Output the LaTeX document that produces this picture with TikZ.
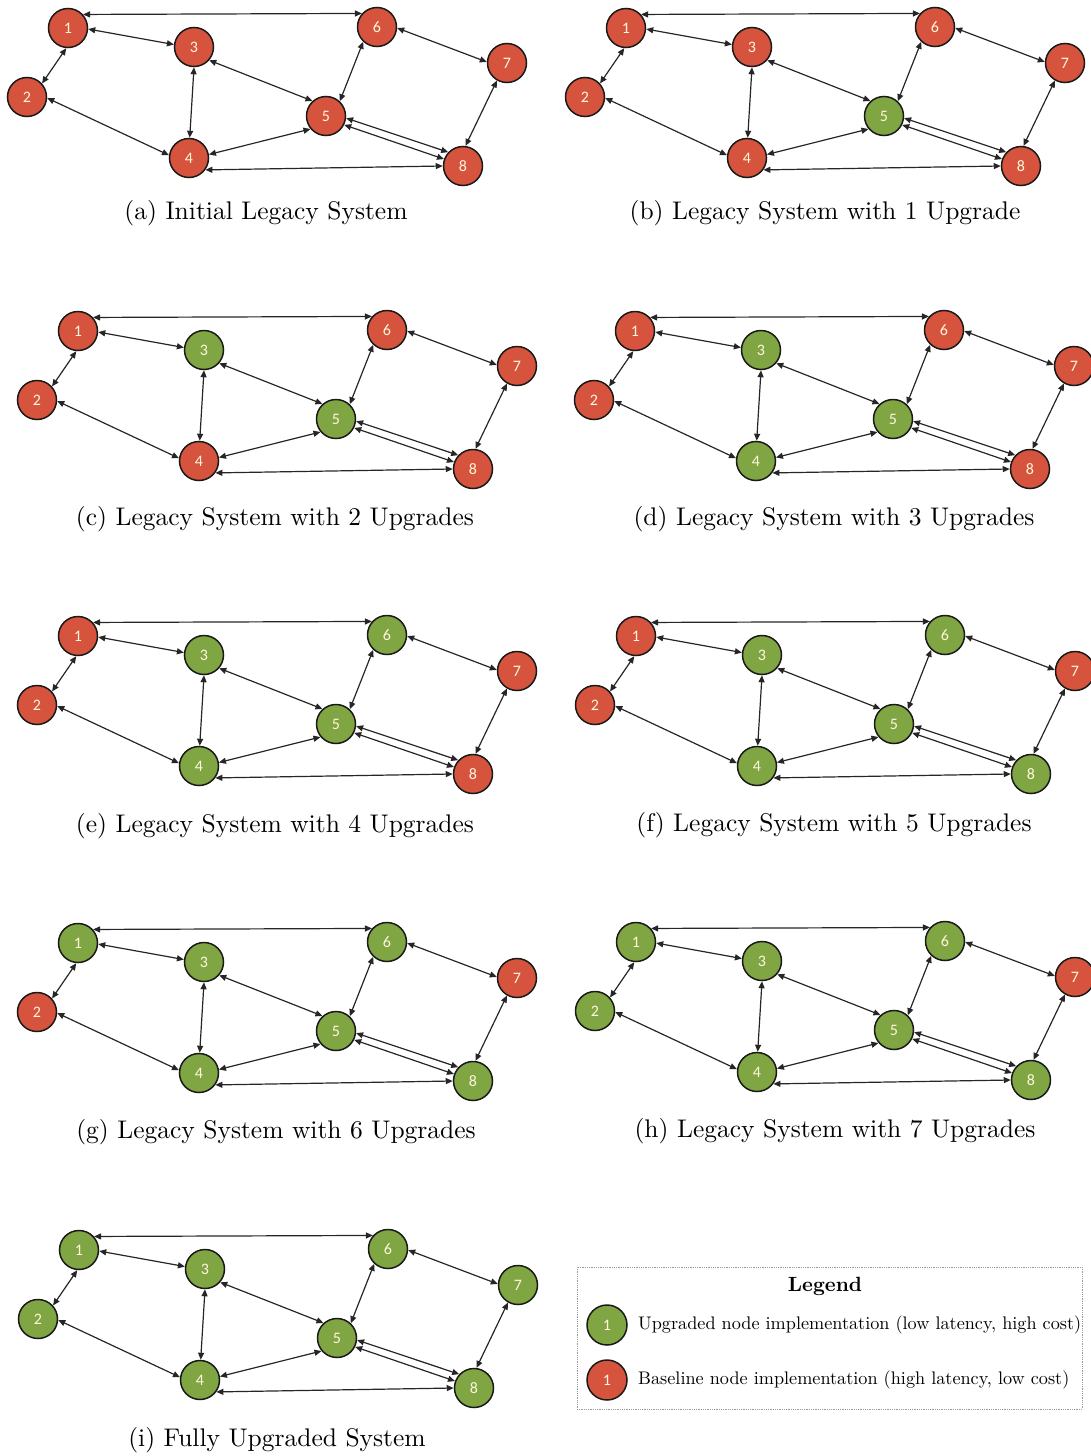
\documentclass[tikz,border=0pt]{standalone}
\usepackage{fontspec}
\usepackage{graphicx}
\usetikzlibrary{arrows.meta}
\newfontfamily\numfont{Carlito}

\definecolor{nodeR}{RGB}{214,84,62}
\definecolor{nodeG}{RGB}{128,166,68}
\definecolor{numtext}{RGB}{255,246,220}

\tikzset{
  netnode/.style={circle, draw=black!90, line width=1.5pt, minimum size=39pt,
    inner sep=0pt, font=\numfont\fontsize{16}{16}\selectfont, text=numtext},
  link/.style={line width=1.2pt, draw=black!85,
    {Triangle[length=7pt,width=6pt]}-{Triangle[length=7pt,width=6pt]}},
  captext/.style={anchor=center, inner sep=0pt},
  legendbox/.style={draw=gray!80, densely dotted, line width=0.8pt,
    minimum width=505pt, minimum height=142pt, inner sep=0pt},
}

% One network panel: #1 name prefix, #2/#3 offset, #4 upgrade flags of nodes 1..8
\newcommand\netpanel[4]{%
  \begin{scope}[shift={(#2,#3)}]
    \foreach \px/\py [count=\i] in {68/28,27/97,194/47,189/158,326/116,377/27,507/63,463/166}{%
      \pgfmathtruncatemacro\up{{#4}[\i-1]}%
      \ifnum\up=1 \def\ncol{nodeG}\else\def\ncol{nodeR}\fi
      \node[netnode, fill=\ncol] (#1\i) at (\px,\py) {\i};
    }
    \draw[link] (#11.-95) -- (#12.42);
    \draw[link] (#11.-3) -- (#13.173);
    \draw[link] (#11.42) -- (#16.138);
    \draw[link] (#12.-3) -- (#14.172);
    \draw[link] (#13.-90) -- (#14.88);
    \draw[link] (#13.-41) -- (#15.132);
    \draw[link] (#14.10) -- (#15.-140);
    \draw[link] (#14.-36) -- (#18.180);
    \draw[link] (#16.-133) -- (#15.47);
    \draw[link] (#16.-3) -- (#17.177);
    \draw[link] (#17.-120) -- (#18.83);
    \draw[link] (#15.-6) -- (#18.137);
    \draw[link] (#15.-26) -- (#18.160);
  \end{scope}}

\begin{document}
\begin{tikzpicture}[x=1pt, y=-1pt]
  \useasboundingbox (0,0) rectangle (1091,1456);

  \netpanel{a}{0}{0}{0,0,0,0,0,0,0,0}
  \netpanel{b}{558}{0}{0,0,0,0,1,0,0,0}
  \netpanel{c}{10}{303}{0,0,1,0,1,0,0,0}
  \netpanel{d}{567}{303}{0,0,1,1,1,0,0,0}
  \netpanel{e}{10}{608}{0,0,1,1,1,1,0,0}
  \netpanel{f}{568}{608}{0,0,1,1,1,1,0,1}
  \netpanel{g}{10}{915}{1,0,1,1,1,1,0,1}
  \netpanel{h}{568}{914}{1,1,1,1,1,1,0,1}
  \netpanel{i}{11}{1222}{1,1,1,1,1,1,1,1}

  \node[captext] (capa) at (266,213)  {\scalebox{2.55}{(a) Initial Legacy System}};
  \node[captext] (capb) at (825,213)  {\scalebox{2.55}{(b) Legacy System with 1 Upgrade}};
  \node[captext] (capc) at (275,519)  {\scalebox{2.55}{(c) Legacy System with 2 Upgrades}};
  \node[captext] (capd) at (834,519)  {\scalebox{2.55}{(d) Legacy System with 3 Upgrades}};
  \node[captext] (cape) at (275,826)  {\scalebox{2.55}{(e) Legacy System with 4 Upgrades}};
  \node[captext] (capf) at (834,825)  {\scalebox{2.55}{(f) Legacy System with 5 Upgrades}};
  \node[captext] (capg) at (276,1132) {\scalebox{2.55}{(g) Legacy System with 6 Upgrades}};
  \node[captext] (caph) at (835,1131) {\scalebox{2.55}{(h) Legacy System with 7 Upgrades}};
  \node[captext] (capi) at (277,1440) {\scalebox{2.55}{(i) Fully Upgraded System}};

  % legend
  \node[legendbox] (legend) at (829.5,1338) {};
  \node[captext] (legtitle) at (825,1286) {\scalebox{2.06}{\bfseries Legend}};
  \node[netnode, fill=nodeG, minimum size=40pt] (legG) at (607,1325) {1};
  \node[netnode, fill=nodeR, minimum size=40pt] (legR) at (607,1380) {1};
  \node[anchor=west, inner sep=0pt] (legGtext) at (638,1325)
    {\scalebox{1.82}{Upgraded node implementation (low latency, high cost)}};
  \node[anchor=west, inner sep=0pt] (legRtext) at (638,1380)
    {\scalebox{1.82}{Baseline node implementation (high latency, low cost)}};
\end{tikzpicture}
\end{document}
